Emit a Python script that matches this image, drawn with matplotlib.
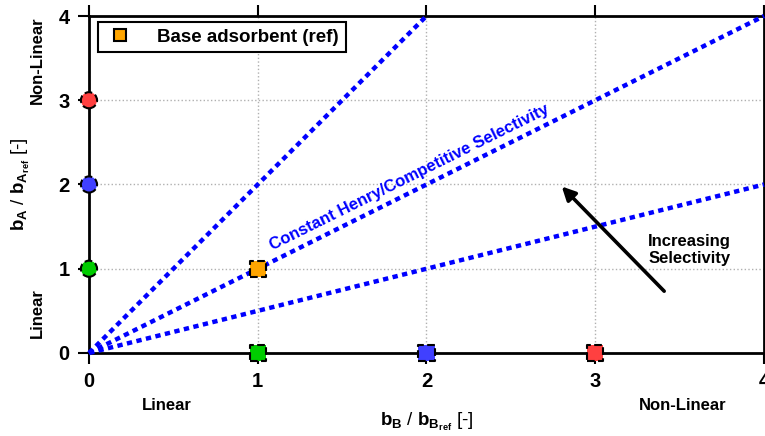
import matplotlib
matplotlib.use("Agg")
import matplotlib.pyplot as plt
from matplotlib.lines import Line2D
import numpy as np

plt.rcParams['font.family'] = ['Liberation Sans', 'DejaVu Sans']
plt.rcParams['font.weight'] = 'bold'
plt.rcParams['mathtext.fontset'] = 'custom'
plt.rcParams['mathtext.rm'] = 'Liberation Sans:bold'
plt.rcParams['mathtext.it'] = 'Liberation Sans:bold'
plt.rcParams['mathtext.bf'] = 'Liberation Sans:bold'

# points along the axes (circles on y axis, squares on x axis)
yaxis_x = [0, 0, 0]
yaxis_y = [1, 2, 3]
xaxis_x = [1, 2, 3]
xaxis_y = [0, 0, 0]
point_colors = ['#00cc00', '#4040ff', '#ff4040']

# base adsorbent reference
ref_x = [1]
ref_y = [1]

# constant selectivity lines: slope of b_A/b_B
slopes = [2.0, 1.0, 0.5]
line_x_end = [2.0, 4.0, 4.0]

fig = plt.figure(figsize=(7.65, 4.36), dpi=100)
ax = fig.add_axes([0.1163, 0.1904, 0.8824, 0.7729])

ax.set_xlim(0, 4)
ax.set_ylim(0, 4)
ax.set_xticks([0, 1, 2, 3, 4])
ax.set_yticks([0, 1, 2, 3, 4])
ax.grid(True, color='#b0b0b0', linestyle=':', linewidth=1)
ax.set_axisbelow(True)

for s in ax.spines.values():
    s.set_linewidth(2)
ax.tick_params(axis='both', which='both', direction='out', length=8, width=1.5,
               top=True, right=True, labelsize=14.5, pad=6)

for m, xe in zip(slopes, line_x_end):
    xs = np.array([0, xe])
    ax.plot(xs, m * xs, color='#0000ff', linestyle=(0, (1.2, 1.0)), linewidth=3.2,
            zorder=3, clip_on=False)

ax.scatter(yaxis_x, yaxis_y, s=135, c=point_colors, marker='o', edgecolors='k',
           linestyle='--', linewidths=1.5, zorder=5, clip_on=False)
ax.scatter(xaxis_x, xaxis_y, s=135, c=point_colors, marker='s', edgecolors='k',
           linestyle='--', linewidths=1.5, zorder=5, clip_on=False)
ax.scatter(ref_x, ref_y, s=135, c='#ffa500', marker='s', edgecolors='k',
           linestyle='--', linewidths=1.5, zorder=5, clip_on=False)

handle = Line2D([], [], marker='s', color='none', markerfacecolor='#ffa500',
                markeredgecolor='k', markersize=8, markeredgewidth=1.5)
leg = ax.legend([handle], ['Base adsorbent (ref)'], loc='upper left',
                bbox_to_anchor=(0.0, 1.01), fancybox=False, framealpha=1,
                edgecolor='k', prop={'size': 13.5, 'weight': 'bold'},
                handletextpad=1.2, borderpad=0.35, handlelength=1.6)
leg.get_frame().set_linewidth(1.5)

ax.text(1.9, 2.08, 'Constant Henry/Competitive Selectivity', color='#0000ff',
        fontsize=12, fontweight='bold', rotation=26.4, ha='center', va='center',
        rotation_mode='anchor')

ax.annotate('', xy=(2.79, 2.0), xytext=(3.42, 0.71),
            arrowprops=dict(arrowstyle='-|>', color='k', lw=2.6, mutation_scale=20))
ax.text(3.56, 1.22, 'Increasing\nSelectivity', fontsize=12, fontweight='bold',
        ha='center', va='center', linespacing=1.2)

ax.set_xlabel(r'$\mathrm{b_B}$ / $\mathrm{b_{B_{ref}}}$ [-]', fontsize=13.5)
ax.set_ylabel(r'$\mathrm{b_A}$ / $\mathrm{b_{A_{ref}}}$ [-]', fontsize=13.5)
ax.xaxis.set_label_coords(0.5, -0.172)
ax.yaxis.set_label_coords(-0.084, 0.5)

ax.text(0.116, -0.156, 'Linear', transform=ax.transAxes, fontsize=12,
        fontweight='bold', ha='center', va='center')
ax.text(0.88, -0.156, 'Non-Linear', transform=ax.transAxes, fontsize=12,
        fontweight='bold', ha='center', va='center')
ax.text(-0.077, 0.119, 'Linear', transform=ax.transAxes, fontsize=12,
        fontweight='bold', ha='center', va='center', rotation=90)
ax.text(-0.077, 0.87, 'Non-Linear', transform=ax.transAxes, fontsize=12,
        fontweight='bold', ha='center', va='center', rotation=90)

fig.savefig('out.png', dpi=100)
